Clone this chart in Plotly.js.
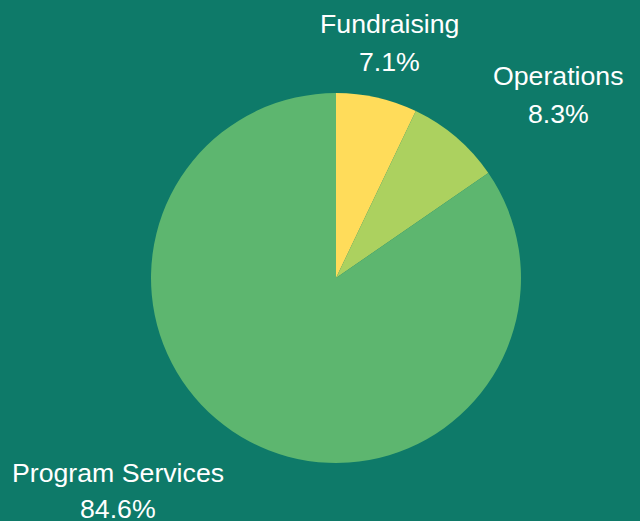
<!DOCTYPE html>
<html><head><meta charset="utf-8">
<script src="https://cdn.plot.ly/plotly-3.0.1.min.js"></script>
<style>html,body{margin:0;padding:0;background:#0e7a69;}</style>
</head><body>
<div id="chart" style="width:640px;height:521px;"></div>
<script>
const categories = ["Fundraising", "Operations", "Program Services"];
const values = [7.1, 8.3, 84.6];
const colors = ["#ffdc5a", "#acd15f", "#5db66f"];

const W = 640, H = 521;
const total = values.reduce((a, b) => a + b, 0);
const pctText = values.map(v => (v / total * 100).toFixed(1) + "%");
// label placement (pixel centres of the two text lines) — layout only
const labelPos = [
  {x: 389.5, y1: 24, y2: 61.5},
  {x: 558, y1: 76, y2: 114},
  {x: 118, y1: 473, y2: 509}
];
const font = {color: "#ffffff", size: 26.7, family: "Liberation Sans, Arial, sans-serif"};
const annotations = [];
categories.forEach((c, i) => {
  const p = labelPos[i];
  annotations.push({xref: "paper", yref: "paper", x: p.x / W, y: 1 - p.y1 / H,
    xanchor: "center", yanchor: "middle", text: c, showarrow: false, font: font});
  annotations.push({xref: "paper", yref: "paper", x: p.x / W, y: 1 - p.y2 / H,
    xanchor: "center", yanchor: "middle", text: pctText[i], showarrow: false, font: font});
});

Plotly.newPlot("chart", [{
  type: "pie",
  labels: categories,
  values: values,
  sort: false,
  direction: "clockwise",
  rotation: 0,
  marker: {colors: colors, line: {width: 0}},
  textinfo: "none",
  textposition: "none",
  hoverinfo: "none",
  domain: {x: [151 / W, 521 / W], y: [1 - 463 / H, 1 - 93 / H]},
  showlegend: false
}], {
  width: W, height: H,
  paper_bgcolor: "#0e7a69",
  plot_bgcolor: "#0e7a69",
  margin: {l: 0, r: 0, t: 0, b: 0},
  showlegend: false,
  annotations: annotations
}, {displayModeBar: false, staticPlot: true});
</script>
</body></html>
